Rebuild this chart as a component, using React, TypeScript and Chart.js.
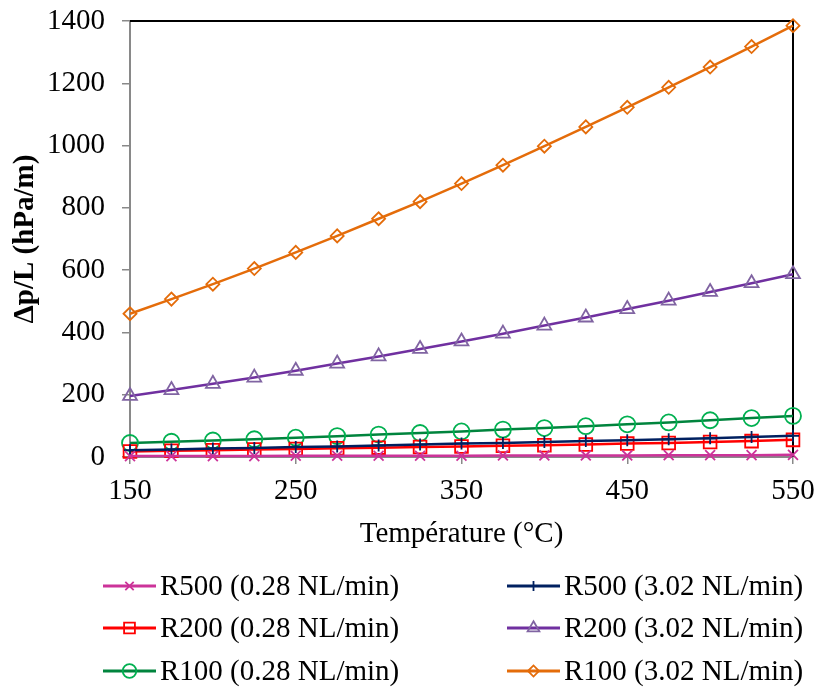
import React, { useEffect, useRef } from "react";
import { Chart, registerables } from "chart.js";
import * as helpers from "chart.js/helpers";

Chart.register(...registerables);

const temperatures = [150, 175, 200, 225, 250, 275, 300, 325, 350, 375, 400, 425, 450, 475, 500, 525, 550];

const r500Low = [3, 3, 3, 3, 4, 4, 4, 4, 4, 5, 5, 5, 5, 6, 6, 6, 7];
const r500High = [22, 24, 27, 29, 32, 34, 37, 40, 43, 45, 48, 51, 54, 57, 60, 64, 68];
const r200Low = [18, 20, 22, 24, 26, 28, 30, 32, 34, 36, 38, 40, 43, 45, 48, 51, 55];
const r200High = [196, 215, 235, 255, 277, 300, 323, 347, 371, 396, 422, 448, 475, 502, 530, 558, 587];
const r100Low = [45, 49, 53, 57, 62, 67, 72, 77, 82, 88, 93, 99, 105, 111, 118, 125, 132];
const r100High = [460, 507, 555, 605, 657, 710, 765, 820, 878, 937, 998, 1060, 1123, 1187, 1252, 1318, 1385];

const seriesLabels = [
  "R500 (0.28 NL/min)",
  "R500 (3.02 NL/min)",
  "R200 (0.28 NL/min)",
  "R200 (3.02 NL/min)",
  "R100 (0.28 NL/min)",
  "R100 (3.02 NL/min)",
];

const yTicks = [0, 200, 400, 600, 800, 1000, 1200, 1400];
const xTicks = [150, 250, 350, 450, 550];

const FONT = "'Liberation Serif', 'Times New Roman', serif";
const FS = 29;

const styles = [
  { line: "#CC3399", marker: "#CC3399", pointStyle: "crossRot", radius: 7 },
  { line: "#002060", marker: "#002060", pointStyle: "cross", radius: 6 },
  { line: "#FF0000", marker: "#FF0000", pointStyle: "rect", radius: 9 },
  { line: "#7030A0", marker: "#8064A2", pointStyle: "triangle", radius: 8 },
  { line: "#00843D", marker: "#00B050", pointStyle: "circle", radius: 8 },
  { line: "#E46C0A", marker: "#E46C0A", pointStyle: "rectRot", radius: 6.5 },
];

const allSeries = [r500Low, r500High, r200Low, r200High, r100Low, r100High];

const framePlugin = {
  id: "frame",
  beforeDatasetsDraw(chart: any) {
    const { ctx, chartArea } = chart;
    ctx.save();
    ctx.strokeStyle = "#000000";
    ctx.lineWidth = 2;
    ctx.beginPath();
    ctx.moveTo(chartArea.left, chartArea.top);
    ctx.lineTo(chartArea.right, chartArea.top);
    ctx.lineTo(chartArea.right, chartArea.bottom);
    ctx.stroke();
    ctx.restore();
  },
};

const legendPlugin = {
  id: "customLegend",
  afterDraw(chart: any) {
    const { ctx } = chart;
    const colX = [103, 507];
    const rowY = [586, 628, 671];
    ctx.save();
    chart.data.datasets.forEach((ds: any, i: number) => {
      const col = i % 2;
      const row = Math.floor(i / 2);
      const x0 = colX[col];
      const y = rowY[row];
      ctx.strokeStyle = ds.borderColor;
      ctx.lineWidth = 3;
      ctx.beginPath();
      ctx.moveTo(x0, y);
      ctx.lineTo(x0 + 53, y);
      ctx.stroke();
      ctx.fillStyle = "rgba(0,0,0,0)";
      ctx.strokeStyle = ds.pointBorderColor;
      ctx.lineWidth = 1.8;
      helpers.drawPoint(ctx, { pointStyle: ds.pointStyle, rotation: 0, borderWidth: 1.8, radius: ds.pointRadius * 0.85 }, x0 + 26.5, y);
      ctx.fillStyle = "#000000";
      ctx.font = `${FS}px ${FONT}`;
      ctx.textBaseline = "middle";
      ctx.textAlign = "left";
      ctx.fillText(ds.label, x0 + 57, y + 1);
    });
    ctx.restore();
  },
};

export default function App() {
  const canvasRef = useRef<HTMLCanvasElement | null>(null);

  useEffect(() => {
    if (!canvasRef.current) return;
    const datasets = allSeries.map((vals, i) => ({
      label: seriesLabels[i],
      data: temperatures.map((t, j) => ({ x: t, y: vals[j] })),
      borderColor: styles[i].line,
      backgroundColor: "rgba(0,0,0,0)",
      pointBorderColor: styles[i].marker,
      pointBackgroundColor: "rgba(0,0,0,0)",
      pointStyle: styles[i].pointStyle,
      pointRadius: styles[i].radius,
      pointBorderWidth: 1.8,
      borderWidth: 2.5,
      tension: 0,
      clip: false as any,
    }));

    const chart = new Chart(canvasRef.current, {
      type: "line",
      data: { datasets },
      options: {
        animation: false,
        responsive: false,
        devicePixelRatio: 1,
        layout: { padding: { top: 21, right: 25, bottom: 132, left: 0 } },
        plugins: {
          legend: { display: false },
          tooltip: { enabled: false },
        },
        scales: {
          x: {
            type: "linear",
            min: 150,
            max: 550,
            afterBuildTicks: (scale: any) => {
              scale.ticks = xTicks.map((v) => ({ value: v }));
            },
            afterFit: (scale: any) => {
              scale.height = 100;
              scale.paddingLeft = 0;
              scale.paddingRight = 0;
            },
            border: { display: true, color: "#898989", width: 2 },
            grid: { display: true, drawOnChartArea: false, drawTicks: true, tickLength: 7, color: "#898989", lineWidth: 1.5 },
            ticks: { color: "#000", font: { family: FONT, size: FS }, padding: 10, maxRotation: 0, callback: (v: any) => String(v) },
            title: { display: true, text: "Température (°C)", color: "#000", font: { family: FONT, size: FS }, padding: { top: 0, bottom: 5 } },
          },
          y: {
            type: "linear",
            min: 0,
            max: 1400,
            afterBuildTicks: (scale: any) => {
              scale.ticks = yTicks.map((v) => ({ value: v }));
            },
            afterFit: (scale: any) => {
              scale.width = 130;
              scale.paddingTop = 0;
              scale.paddingBottom = 0;
            },
            border: { display: true, color: "#898989", width: 2 },
            grid: { display: true, drawOnChartArea: false, drawTicks: true, tickLength: 8, color: "#898989", lineWidth: 1.5 },
            ticks: { color: "#000", font: { family: FONT, size: FS }, padding: 17, callback: (v: any) => String(v) },
            title: { display: true, text: "Δp/L (hPa/m)", color: "#000", font: { family: FONT, size: FS, weight: "bold" }, padding: { top: 8, bottom: 0 } },
          },
        },
      } as any,
      plugins: [framePlugin, legendPlugin],
    });
    return () => chart.destroy();
  }, []);

  return (
    <div style={{ position: "fixed", left: 0, top: 0, width: 818, height: 689, background: "#fff" }}>
      <canvas ref={canvasRef} width={818} height={689} style={{ width: 818, height: 689 }} />
    </div>
  );
}
